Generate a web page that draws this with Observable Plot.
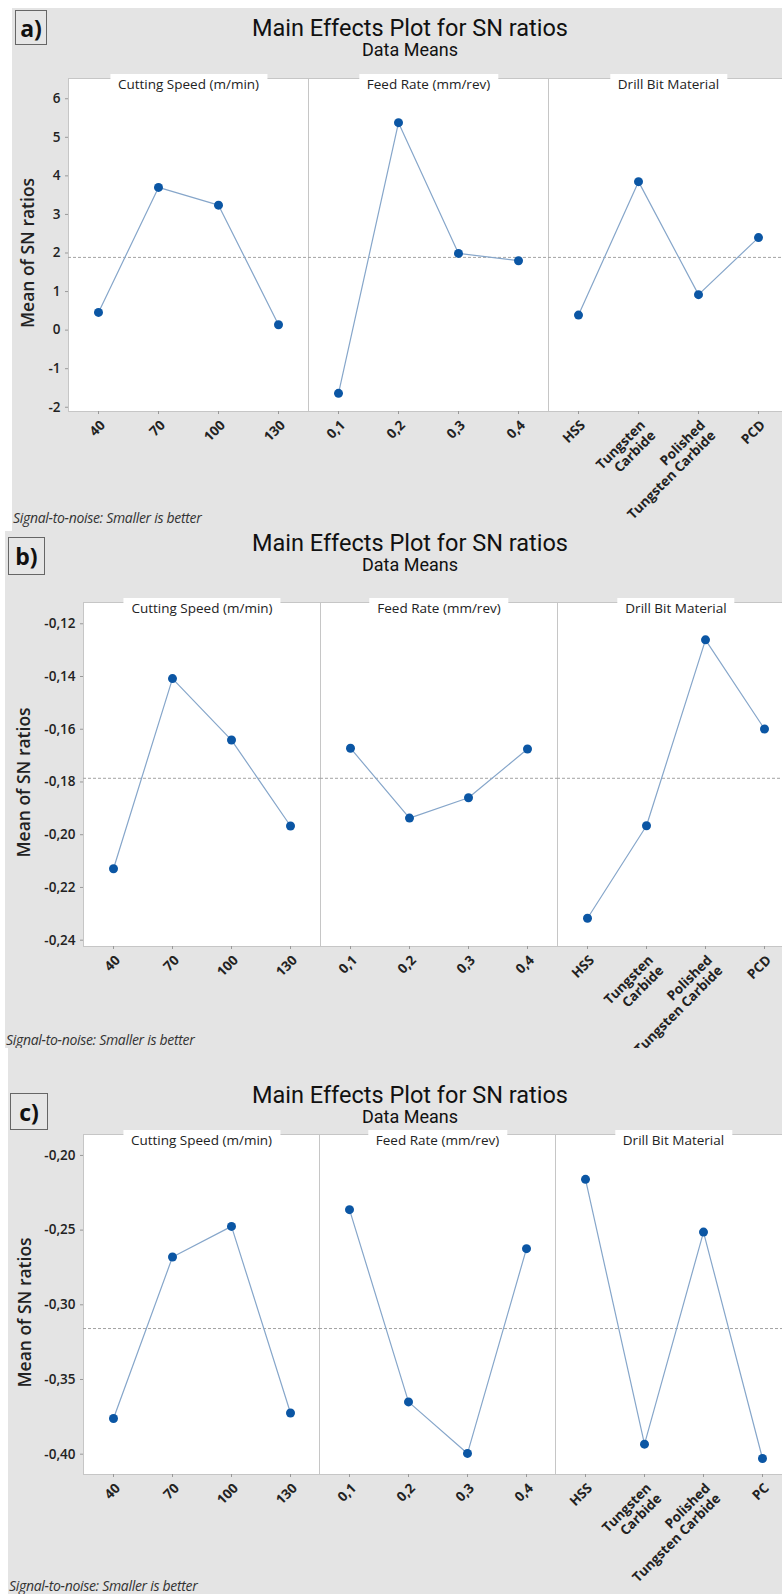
<!DOCTYPE html>
<html><head><meta charset="utf-8">
<script src="https://cdn.jsdelivr.net/npm/d3@7"></script>
<script src="https://cdn.jsdelivr.net/npm/@observablehq/plot@0.6"></script>
<style>
body{margin:0;background:#fff;}
#root{position:relative;width:782px;height:1594px;overflow:hidden;font-family:"Open Sans",sans-serif;}
.panel{position:absolute;background:#e4e4e4;}
.box{position:absolute;border:1px solid #666;background:#e6e6e6;font:700 23px "Open Sans";color:#111;display:flex;align-items:center;justify-content:center;box-sizing:border-box;}
.title{position:absolute;left:110px;width:600px;text-align:center;font-family:Roboto,sans-serif;color:#111;white-space:nowrap;}
.strip{position:absolute;background:#fff;border:1px solid #c6c6c6;border-bottom:none;box-sizing:border-box;}
.strip span{position:absolute;left:50%;transform:translateX(-50%);top:-5px;background:#fff;padding:0 8px;font:13.5px "Open Sans";color:#222;white-space:nowrap;line-height:20px;}
.caption{position:absolute;font:italic 14px "Open Sans";color:#333;white-space:nowrap;letter-spacing:-0.3px;}
svg g[aria-label="y-axis label"]{font-size:17.5px;font-weight:600;}
</style>
</head><body><div id="root"></div>
<script>
// ---- data ----
const factorNames = ["Cutting Speed (m/min)", "Feed Rate (mm/rev)", "Drill Bit Material"];
const speedLevels = ["40", "70", "100", "130"];
const feedLevels = ["0,1", "0,2", "0,3", "0,4"];
const materialLevelsAB = ["HSS", "Tungsten\nCarbide", "Polished\nTungsten Carbide", "PCD"];
const materialLevelsC = ["HSS", "Tungsten\nCarbide", "Polished\nTungsten Carbide", "PC"];

const snA_speed = [0.46, 3.70, 3.24, 0.14];
const snA_feed = [-1.64, 5.38, 1.99, 1.80];
const snA_material = [0.39, 3.85, 0.92, 2.40];

const snB_speed = [-0.2129, -0.1408, -0.1641, -0.1967];
const snB_feed = [-0.1672, -0.1937, -0.1860, -0.1675];
const snB_material = [-0.2317, -0.1966, -0.1261, -0.1599];

const snC_speed = [-0.3761, -0.2680, -0.2475, -0.3724];
const snC_feed = [-0.2363, -0.3650, -0.3995, -0.2624];
const snC_material = [-0.2160, -0.3933, -0.2513, -0.4029];

const yTicksA = [-2, -1, 0, 1, 2, 3, 4, 5, 6];
const yTicksB = [-0.24, -0.22, -0.20, -0.18, -0.16, -0.14, -0.12];
const yTicksC = [-0.40, -0.35, -0.30, -0.25, -0.20];

const titleText = "Main Effects Plot for SN ratios";
const subtitleText = "Data Means";
const captionText = "Signal-to-noise: Smaller is better";
const yLabel = "Mean of SN ratios";

// ---- layout ----
const panels = [
  {label: "a)", bg: [12, 8, 770, 523], box: [15, 10, 32, 35], titleY: 14, subY: 39,
   plotLeft: 68, plotTop: 94, plotBottom: 411, facetW: 240, stripTop: 78, labelOffset: 47,
   yDomain: [-2.11, 6.11], yTicks: yTicksA, fmt: d => String(d).replace("−", "-"),
   levels: [speedLevels, feedLevels, materialLevelsAB], values: [snA_speed, snA_feed, snA_material], captionY: 508},
  {label: "b)", bg: [5, 531, 777, 517], box: [8, 537, 37, 38], titleY: 529, subY: 554,
   plotLeft: 83, plotTop: 618, plotBottom: 946, facetW: 237, stripTop: 602, labelOffset: 66,
   yDomain: [-0.2424, -0.118], yTicks: yTicksB, fmt: d => d.toFixed(2).replace(".", ","),
   levels: [speedLevels, feedLevels, materialLevelsAB], values: [snB_speed, snB_feed, snB_material], captionY: 1030},
  {label: "c)", bg: [8, 1048, 774, 546], box: [10, 1093, 38, 37], titleY: 1081, subY: 1106,
   plotLeft: 83, plotTop: 1150, plotBottom: 1474, facetW: 236, stripTop: 1134, labelOffset: 65,
   yDomain: [-0.4136, -0.1967], yTicks: yTicksC, fmt: d => d.toFixed(2).replace(".", ","),
   levels: [speedLevels, feedLevels, materialLevelsC], values: [snC_speed, snC_feed, snC_material], captionY: 1576}
];

const root = document.getElementById("root");
function el(cls, css, html) {
  const d = document.createElement("div");
  d.className = cls;
  Object.assign(d.style, css);
  if (html != null) d.innerHTML = html;
  root.appendChild(d);
  return d;
}

for (const p of panels) {
  el("panel", {left: p.bg[0] + "px", top: p.bg[1] + "px", width: p.bg[2] + "px", height: p.bg[3] + "px"});
  el("box", {left: p.box[0] + "px", top: p.box[1] + "px", width: p.box[2] + "px", height: p.box[3] + "px"}, p.label);
  el("title", {top: p.titleY + "px", fontSize: "23.5px"}, titleText);
  el("title", {top: p.subY + "px", fontSize: "18px"}, subtitleText);
  el("caption", {left: (p.bg[0] + 1) + "px", top: p.captionY + "px"}, captionText);

  const grand = d3.mean(p.values.flat());
  const plotH = p.plotBottom - p.plotTop;
  for (let j = 0; j < 3; j++) {
    const first = j === 0;
    const levels = p.levels[j];
    const data = levels.map((l, i) => ({level: l, value: p.values[j][i]}));
    const mb = 130;
    const svg = Plot.plot({
      width: (first ? p.plotLeft : 0) + p.facetW,
      height: plotH + mb,
      marginTop: 0, marginBottom: mb, marginLeft: first ? p.plotLeft : 0, marginRight: 0,
      x: {type: "point", domain: levels, padding: 0.5, axis: null},
      y: {domain: p.yDomain, axis: null},
      style: {background: "transparent", overflow: "visible", fontFamily: "Open Sans", color: "#222"},
      marks: [
        Plot.frame({fill: "white", stroke: "#c6c6c6"}),
        Plot.ruleY([grand], {stroke: "#a3a3a3", strokeDasharray: "3,2"}),
        Plot.line(data, {x: "level", y: "value", stroke: "#86a6ca", strokeWidth: 1.2}),
        Plot.dot(data, {x: "level", y: "value", r: 4.5, fill: "#0b56a4"}),
        Plot.axisX({tickSize: 3, tickPadding: 4, tickRotate: -45, textAnchor: "end", lineAnchor: "top",
          fontSize: 13.5, fontWeight: 700, label: null, stroke: "#999", fill: "#222", lineHeight: 1.1}),
        first ? Plot.axisY({ticks: p.yTicks, tickFormat: p.fmt, tickSize: 3, tickPadding: 5,
          label: yLabel, labelAnchor: "center", labelArrow: "none", labelOffset: p.labelOffset,
          fontSize: 13.5, fontWeight: 600, stroke: "#999", fill: "#222"}) : null
      ]
    });
    svg.style.position = "absolute";
    svg.style.left = (first ? 0 : p.plotLeft + j * p.facetW) + "px";
    svg.style.top = p.plotTop + "px";
    svg.style.maxWidth = "none";
    root.appendChild(svg);
    el("strip", {left: (p.plotLeft + j * p.facetW) + "px", top: p.stripTop + "px",
      width: (p.facetW + 1) + "px", height: (p.plotTop - p.stripTop + 1) + "px"},
      "<span>" + factorNames[j] + "</span>");
  }
}
</script>
</body></html>
